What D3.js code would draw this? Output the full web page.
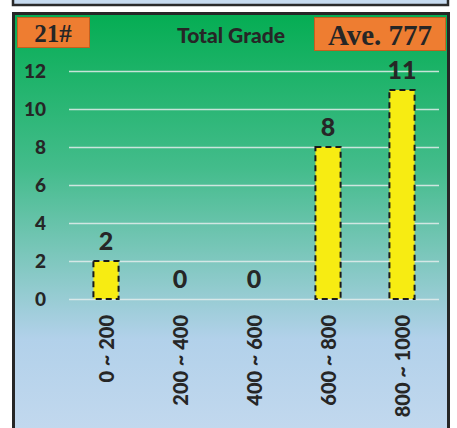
<!DOCTYPE html>
<html>
<head>
<meta charset="utf-8">
<script src="https://cdn.jsdelivr.net/npm/d3@7"></script>
<style>
  html, body { margin: 0; padding: 0; background: #fff; }
  svg { display: block; }
</style>
</head>
<body>
<div id="chart"></div>
<script>
// Chart data
const categories = ['0 ~ 200', '200 ~ 400', '400 ~ 600', '600 ~ 800', '800 ~ 1000'];
const counts = [2, 0, 0, 8, 11];
const yTicks = [0, 2, 4, 6, 8, 10, 12];
const title = 'Total Grade';
const classLabel = '21#';
const averageLabel = 'Ave. 777';

const W = 457, H = 428;
const textColor = '#262626';
const sans = 'Lato, sans-serif';
const heavy = 900;

const svg = d3.select('#chart').append('svg')
  .attr('width', W)
  .attr('height', H);

// Background gradient
const defs = svg.append('defs');
const grad = defs.append('linearGradient')
  .attr('id', 'bg')
  .attr('x1', 0).attr('y1', 0).attr('x2', 0).attr('y2', 1);
[[0, '#05ad53'], [0.35, '#43bc8b'], [0.74, '#b2d1ea'], [1, '#c6daef']].forEach(([o, c]) => {
  grad.append('stop').attr('offset', o).attr('stop-color', c);
});

// Previous panel peeking at the top
svg.append('rect')
  .attr('x', 13).attr('y', -20)
  .attr('width', 435).attr('height', 25)
  .attr('fill', '#c6daef')
  .attr('stroke', '#2a2a2a')
  .attr('stroke-width', 2.5);

// Main panel
svg.append('rect')
  .attr('x', 13.5).attr('y', 13.5)
  .attr('width', 435).attr('height', 440)
  .attr('fill', 'url(#bg)')
  .attr('stroke', '#262626')
  .attr('stroke-width', 3);

// ── Scales ──
const x = d3.scaleBand()
  .domain(categories)
  .range([69, 439])
  .paddingInner(0.66)
  .paddingOuter(0.33);

const y = d3.scaleLinear()
  .domain([0, 12])
  .range([299, 71]);

// Grid
svg.append('g')
  .attr('transform', 'translate(69,0)')
  .call(d3.axisLeft(y).tickValues(yTicks).tickSize(-370).tickFormat(''))
  .call(g => g.select('.domain').remove())
  .selectAll('line')
  .attr('stroke', '#e4ecec')
  .attr('stroke-opacity', 0.85)
  .attr('stroke-width', 1.5);

// Y axis labels
const yAxis = svg.append('g')
  .attr('transform', 'translate(53,0)')
  .call(d3.axisLeft(y).tickValues(yTicks).tickSize(0).tickPadding(7));
yAxis.select('.domain').remove();
yAxis.selectAll('text')
  .attr('font-family', sans)
  .attr('font-weight', heavy)
  .attr('font-size', '19px')
  .attr('fill', textColor);

// Bars
svg.append('g').selectAll('rect')
  .data(counts)
  .join('rect')
  .attr('x', (d, i) => x(categories[i]))
  .attr('y', d => y(d))
  .attr('width', x.bandwidth())
  .attr('height', d => y(0) - y(d))
  .attr('fill', '#f7ec12')
  .attr('stroke', d => d > 0 ? '#1a1a1a' : 'none')
  .attr('stroke-width', 2)
  .attr('stroke-dasharray', '6,4');

// Value labels
svg.append('g').selectAll('text')
  .data(counts)
  .join('text')
  .attr('x', (d, i) => x(categories[i]) + x.bandwidth() / 2)
  .attr('y', d => y(d) - 11)
  .attr('text-anchor', 'middle')
  .attr('font-family', sans)
  .attr('font-weight', heavy)
  .attr('font-size', '25px')
  .attr('fill', textColor)
  .text(d => d);

// X axis labels (rotated)
svg.append('g').selectAll('text')
  .data(categories)
  .join('text')
  .attr('transform', d => `translate(${x(d) + x.bandwidth() / 2 + 1},315) rotate(-90)`)
  .attr('text-anchor', 'end')
  .attr('dy', '0.36em')
  .attr('font-family', sans)
  .attr('font-weight', heavy)
  .attr('font-size', '20px')
  .attr('fill', textColor)
  .text(d => d);

// ── Header ──
svg.append('rect')
  .attr('x', 17.5).attr('y', 17.5)
  .attr('width', 72).attr('height', 30)
  .attr('fill', '#ee7d31')
  .attr('stroke', '#c45f1f')
  .attr('stroke-width', 1);
svg.append('text')
  .attr('x', 53).attr('y', 42)
  .attr('text-anchor', 'middle')
  .attr('font-family', '"Liberation Serif", serif')
  .attr('font-weight', 'bold')
  .attr('font-size', '25px')
  .attr('fill', textColor)
  .text(classLabel);

svg.append('text')
  .attr('x', 231).attr('y', 43)
  .attr('text-anchor', 'middle')
  .attr('font-family', sans)
  .attr('font-weight', heavy)
  .attr('font-size', '21px')
  .attr('fill', textColor)
  .text(title);

svg.append('rect')
  .attr('x', 314.5).attr('y', 17.5)
  .attr('width', 131).attr('height', 33)
  .attr('fill', '#ee7d31')
  .attr('stroke', '#c45f1f')
  .attr('stroke-width', 1);
svg.append('text')
  .attr('x', 380).attr('y', 45)
  .attr('text-anchor', 'middle')
  .attr('font-family', '"Liberation Serif", serif')
  .attr('font-weight', 'bold')
  .attr('font-size', '29px')
  .attr('fill', textColor)
  .text(averageLabel);
</script>
</body>
</html>
